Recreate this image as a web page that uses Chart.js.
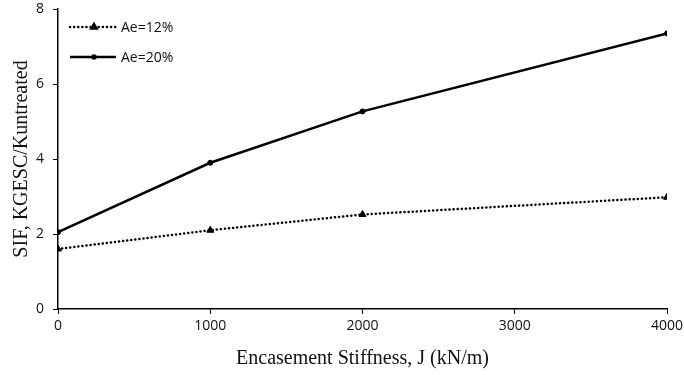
<!DOCTYPE html>
<html>
<head>
<meta charset="utf-8">
<script src="https://cdn.jsdelivr.net/npm/chart.js@4"></script>
<style>
  html, body { margin: 0; padding: 0; background: #fff; }
  #wrap { width: 684px; height: 375px; }
</style>
</head>
<body>
<div id="wrap"><canvas id="sif-chart"></canvas></div>
<script>
// stiffness values along x, kN/m
const stiffness = [0, 1000, 2000, 4000];
// SIF for the two area ratios
const sif12 = [1.6, 2.1, 2.52, 2.98];
const sif20 = [2.05, 3.9, 5.27, 7.35];
const seriesLabels = ["Ae=12%", "Ae=20%"];
const yTicks = [0, 2, 4, 6, 8];
const xTicks = [0, 1000, 2000, 3000, 4000];

const toPoints = (ys) => stiffness.map((x, i) => ({ x: x, y: ys[i] }));

// legend drawn inside the plot area: line sample + marker + text
const insideLegend = {
  id: "insideLegend",
  afterDraw(chart) {
    const ctx = chart.ctx;
    const rows = [27, 57];
    chart.data.datasets.forEach((ds, i) => {
      const y = rows[i];
      ctx.save();
      ctx.strokeStyle = "#000";
      ctx.lineWidth = ds.borderWidth;
      ctx.setLineDash(ds.borderDash || []);
      ctx.lineCap = ds.borderCapStyle || "butt";
      ctx.beginPath();
      ctx.moveTo(70, y);
      ctx.lineTo(116, y);
      ctx.stroke();
      ctx.setLineDash([]);
      ctx.fillStyle = "#000";
      Chart.helpers.drawPoint(ctx, {
        pointStyle: ds.pointStyle,
        radius: ds.pointRadius - 1,
        borderWidth: 1
      }, 94, y);
      ctx.fillStyle = "#111";
      ctx.font = "14px 'Open Sans', sans-serif";
      ctx.textBaseline = "middle";
      ctx.fillText(ds.label, 121, y + 1);
      ctx.restore();
    });
  }
};

const plainTick = (v) => String(v);

new Chart(document.getElementById("sif-chart"), {
  type: "line",
  data: {
    datasets: [
      {
        label: seriesLabels[0],
        data: toPoints(sif12),
        borderColor: "#000",
        backgroundColor: "#000",
        borderWidth: 2.5,
        borderDash: [0.1, 4],
        borderCapStyle: "round",
        pointStyle: "triangle",
        pointRadius: 4,
        pointBorderWidth: 1,
        fill: false,
        tension: 0
      },
      {
        label: seriesLabels[1],
        data: toPoints(sif20),
        borderColor: "#000",
        backgroundColor: "#000",
        borderWidth: 2.5,
        pointStyle: "circle",
        pointRadius: 2.5,
        pointBorderWidth: 1,
        fill: false,
        tension: 0
      }
    ]
  },
  options: {
    responsive: true,
    maintainAspectRatio: false,
    animation: false,
    layout: { padding: { top: 9, right: 0, left: 6, bottom: 0 } },
    plugins: { legend: { display: false }, tooltip: { enabled: false } },
    scales: {
      x: {
        type: "linear",
        min: 0,
        max: 4000,
        afterBuildTicks: (s) => { s.ticks = xTicks.map((v) => ({ value: v })); },
        afterFit: (s) => { s.height = 66; s.paddingRight = 17; },
        grid: { drawOnChartArea: false, color: "#000", tickLength: 5, lineWidth: 1 },
        border: { color: "#000", width: 1.5 },
        ticks: {
          color: "#111",
          padding: 4,
          maxRotation: 0,
          callback: plainTick,
          font: { family: "'Open Sans', sans-serif", size: 14 }
        },
        title: {
          display: true,
          text: "Encasement Stiffness, J (kN/m)",
          color: "#111",
          padding: { top: 3 },
          font: { family: "'Liberation Serif', serif", size: 20 }
        }
      },
      y: {
        min: 0,
        max: 8,
        afterBuildTicks: (s) => { s.ticks = yTicks.map((v) => ({ value: v })); },
        afterFit: (s) => { s.width = 52; s.paddingTop = 0; s.paddingBottom = 0; },
        grid: { drawOnChartArea: false, color: "#000", tickLength: 5, lineWidth: 1 },
        border: { color: "#000", width: 1.5 },
        ticks: {
          color: "#111",
          padding: 9,
          callback: plainTick,
          font: { family: "'Open Sans', sans-serif", size: 14 }
        },
        title: {
          display: true,
          text: "SIF, KGESC/Kuntreated",
          color: "#111",
          padding: { bottom: 2 },
          font: { family: "'Liberation Serif', serif", size: 20 }
        }
      }
    }
  },
  plugins: [insideLegend]
});
</script>
</body>
</html>
